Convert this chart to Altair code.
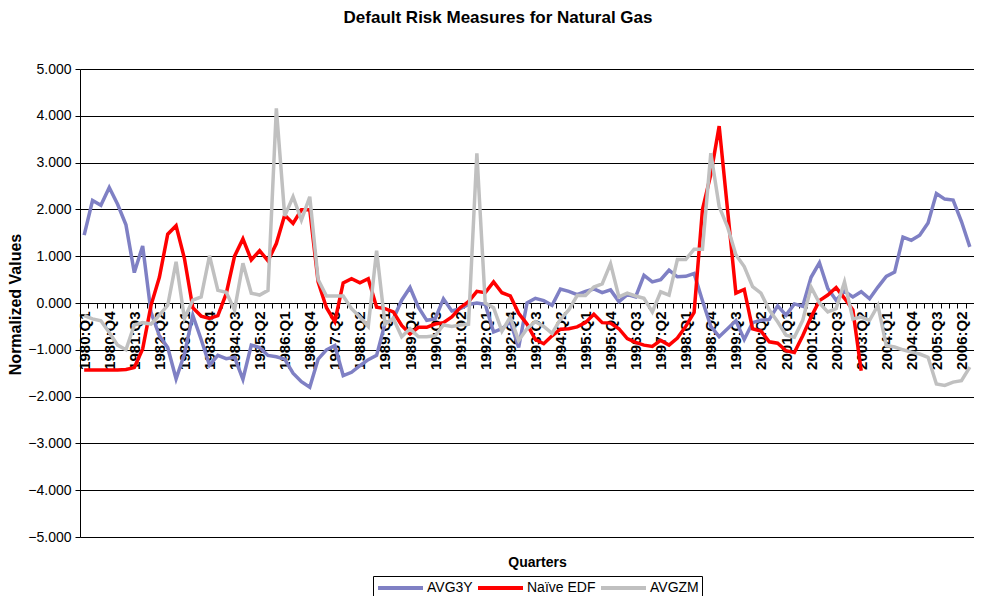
import json
import altair as alt
import pandas as pd

FONT = "Liberation Sans"

years = list(range(1980, 2007))
quarters = [f"{y}:Q{q}" for y in years for q in range(1, 5)][:107]

avg3y = [1.45, 2.19, 2.09, 2.47, 2.11, 1.67, 0.65, 1.22, -0.2, -0.7,
         -0.95, -1.62, -1.09, -0.26, -0.78, -1.33, -1.12, -1.19, -1.16, -1.63,
         -0.9, -0.95, -1.12, -1.15, -1.2, -1.5, -1.68, -1.8, -1.2, -1.0,
         -0.91, -1.55, -1.48, -1.34, -1.21, -1.12, -0.44, -0.34, 0.06, 0.33,
         -0.09, -0.37, -0.34, 0.09, -0.17, -0.12, -0.03, 0.0, -0.03, -0.62,
         -0.55, -0.4, -0.95, 0.0, 0.1, 0.05, -0.05, 0.3, 0.25, 0.18,
         0.25, 0.3, 0.22, 0.28, 0.03, 0.18, 0.13, 0.59, 0.45, 0.5,
         0.7, 0.56, 0.57, 0.63, 0.05, -0.5, -0.72, -0.55, -0.38, -0.78,
         -0.42, -0.37, -0.35, -0.06, -0.26, -0.02, -0.07, 0.55, 0.86, 0.31,
         0.06, 0.25, 0.13, 0.24, 0.09, 0.34, 0.57, 0.66, 1.41, 1.34,
         1.45, 1.71, 2.34, 2.22, 2.2, 1.74, 1.2]

naive_edf = [-1.43, -1.43, -1.43, -1.43, -1.43, -1.42, -1.38, -0.98, -0.05, 0.55,
             1.47, 1.65, 0.95, -0.1, -0.28, -0.33, -0.27, 0.2, 1.0, 1.37,
             0.92, 1.12, 0.9, 1.27, 1.88, 1.7, 1.99, 1.99, 0.45, -0.1,
             -0.4, 0.43, 0.52, 0.43, 0.52, -0.09, -0.12, -0.19, -0.48, -0.66,
             -0.52, -0.52, -0.45, -0.42, -0.3, -0.1, 0.03, 0.25, 0.22, 0.45,
             0.22, 0.15, -0.22, -0.45, -0.78, -0.87, -0.7, -0.56, -0.55, -0.51,
             -0.42, -0.24, -0.42, -0.43, -0.55, -0.76, -0.84, -0.9, -0.93, -0.8,
             -0.9, -0.75, -0.5, -0.2, 2.0, 2.75, 3.78, 2.0, 0.21, 0.29,
             -0.55, -0.6, -0.83, -0.86, -1.02, -1.06, -0.7, -0.3, 0.05, 0.17,
             0.33, 0.1, -0.15, -1.45]

avgzm = [-0.27, -0.34, -0.38, -0.63, -0.9, -1.0, -0.47, -0.42, -0.45, -0.26,
         -0.05, 0.88, -0.33, 0.06, 0.13, 1.01, 0.27, 0.23, -0.15, 0.85,
         0.21, 0.17, 0.27, 4.16, 1.86, 2.27, 1.77, 2.27, 0.5, 0.15,
         0.15, 0.15, -0.12, -0.3, -0.5, 1.12, -0.45, -0.33, -0.72, -0.55,
         -0.72, -0.72, -0.7, -0.47, -0.5, -0.47, -0.45, 3.2, 0.0, -0.1,
         -0.6, -0.3, -0.8, -0.55, -0.4, -0.5, -0.65, -0.35, -0.15, 0.16,
         0.16, 0.34, 0.41, 0.84, 0.13, 0.21, 0.15, 0.1, -0.19, 0.24,
         0.17, 0.93, 0.93, 1.15, 1.15, 3.2, 2.06, 1.63, 1.03, 0.78,
         0.35, 0.21, -0.15, -0.4, -0.69, -0.73, -0.37, 0.34, 0.0, -0.19,
         -0.12, 0.45, -0.34, -0.3, -0.37, -0.05, -0.91, -0.94, -1.0, -1.05,
         -1.09, -1.16, -1.73, -1.76, -1.69, -1.66, -1.37]

series_names = ["AVG3Y", "Naïve EDF", "AVGZM"]
series_colors = ["#7F80C4", "#FF0000", "#C0C0C0"]

rows = []
for name, vals in zip(series_names, [avg3y, naive_edf, avgzm]):
    for i, v in enumerate(vals):
        rows.append({"idx": i, "quarter": quarters[i], "series": name, "value": v})
df = pd.DataFrame(rows)

W, H = 894, 468
n = len(quarters)
step = W / n

label_expr = "datum.value % 3 == 0 ? " + json.dumps(quarters) + "[datum.value] : ''"

chart = alt.Chart(df).mark_line(strokeWidth=3.5).encode(
    x=alt.X("idx:Q",
            scale=alt.Scale(domain=[-0.5, n - 0.5], nice=False, zero=False),
            axis=alt.Axis(values=list(range(n)), labelExpr=label_expr,
                          labelAngle=270, offset=-H / 2,
                          tickOffset=-step / 2, labelOffset=step / 2,
                          labelOverlap=False, labelFlush=False, labelBound=False,
                          labelFont=FONT, labelFontSize=15, labelFontWeight="bold",
                          labelColor="black", labelPadding=3,
                          domainColor="black", domainWidth=1,
                          tickColor="black", tickSize=5, tickWidth=1,
                          grid=False,
                          title="Quarters", titleFont=FONT, titleFontSize=14,
                          titleFontWeight="bold", titleColor="black",
                          titleX=457, titleY=259, titleBaseline="middle",
                          titleAlign="center")),
    y=alt.Y("value:Q",
            scale=alt.Scale(domain=[-5, 5], nice=False, zero=False),
            axis=alt.Axis(values=list(range(-5, 6)), format=".3f",
                          labelFont=FONT, labelFontSize=14, labelColor="black",
                          labelPadding=4,
                          domainColor="black", tickColor="black", tickSize=5,
                          grid=True, gridColor="black", gridWidth=1,
                          title="Normalized Values", titleFont=FONT,
                          titleFontSize=16, titleFontWeight="bold",
                          titleColor="black", titleAngle=270,
                          titleX=-65, titleY=235, titleAlign="center",
                          titleBaseline="middle")),
    color=alt.Color("series:N",
                    scale=alt.Scale(domain=series_names, range=series_colors),
                    legend=alt.Legend(title=None, orient="none",
                                      legendX=293, legendY=507,
                                      direction="horizontal", columns=3,
                                      symbolType="stroke", symbolSize=2025,
                                      symbolStrokeWidth=4, clipHeight=18,
                                      labelFont=FONT, labelFontSize=14,
                                      labelColor="black", labelOffset=2,
                                      columnPadding=3, padding=3,
                                      strokeColor="black", fillColor="white")),
    order=alt.Order("idx:Q"),
).properties(
    width=W, height=H,
    autosize="none",
    padding={"left": 72, "top": 61, "right": 0, "bottom": 59},
    title=alt.TitleParams("Default Risk Measures for Natural Gas", font=FONT,
                          fontSize=17, fontWeight="bold", color="black",
                          anchor="middle", dx=-29, offset=35),
).configure_view(stroke=None).configure(background="white")

chart.save("out.html", embed_options={"renderer": "svg", "actions": False})
